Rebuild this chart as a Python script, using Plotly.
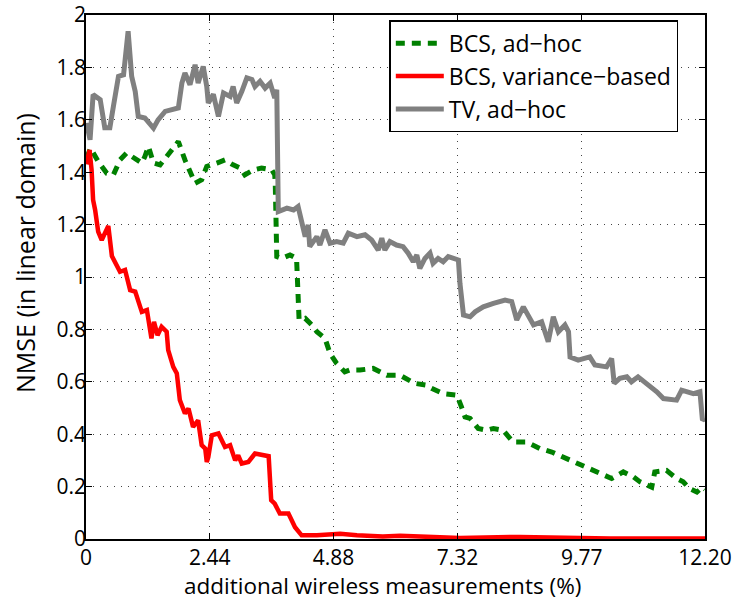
import plotly.graph_objects as go

# x: additional wireless measurements (%), y: NMSE (linear)
tv_x = [0.01, 0.08, 0.14, 0.28, 0.37, 0.47, 0.54, 0.64, 0.74, 0.83, 0.90, 0.97, 1.03, 1.16, 1.33,
        1.42, 1.56, 1.72, 1.82, 1.89, 1.95, 2.05, 2.15, 2.21, 2.31, 2.38, 2.41, 2.51, 2.61, 2.71,
        2.84, 2.90, 2.97, 3.07, 3.17, 3.27, 3.33, 3.43, 3.53, 3.63, 3.72, 3.76, 3.79, 3.96, 4.09,
        4.18, 4.25, 4.32, 4.38, 4.41, 4.55, 4.61, 4.71, 4.81, 4.94, 5.07, 5.17, 5.34, 5.50, 5.63,
        5.76, 5.83, 5.89, 5.99, 6.12, 6.25, 6.35, 6.45, 6.52, 6.58, 6.68, 6.78, 6.84, 6.94, 7.04,
        7.14, 7.34, 7.37, 7.44, 7.57, 7.67, 7.83, 8.03, 8.26, 8.39, 8.49, 8.62, 8.72, 8.82, 8.98,
        9.11, 9.21, 9.31, 9.44, 9.51, 9.54, 9.70, 9.93, 10.03, 10.26, 10.36, 10.41, 10.52, 10.66,
        10.75, 10.88, 11.05, 11.25, 11.38, 11.64, 11.74, 11.97, 12.10, 12.15, 12.20]
tv_y = [1.588, 1.524, 1.696, 1.677, 1.570, 1.570, 1.651, 1.766, 1.772, 1.938, 1.766, 1.708, 1.613,
        1.607, 1.568, 1.600, 1.632, 1.641, 1.645, 1.740, 1.779, 1.734, 1.810, 1.740, 1.804, 1.727,
        1.664, 1.697, 1.613, 1.702, 1.689, 1.727, 1.664, 1.708, 1.760, 1.754, 1.727, 1.747, 1.721,
        1.740, 1.683, 1.715, 1.250, 1.263, 1.256, 1.269, 1.205, 1.154, 1.199, 1.116, 1.154, 1.122,
        1.180, 1.129, 1.135, 1.129, 1.167, 1.154, 1.161, 1.141, 1.103, 1.148, 1.103, 1.135, 1.122,
        1.116, 1.091, 1.058, 1.084, 1.033, 1.071, 1.091, 1.052, 1.071, 1.058, 1.078, 1.065, 0.976,
        0.855, 0.848, 0.867, 0.886, 0.899, 0.912, 0.906, 0.836, 0.886, 0.848, 0.817, 0.829, 0.753,
        0.848, 0.791, 0.817, 0.791, 0.695, 0.683, 0.695, 0.664, 0.657, 0.689, 0.594, 0.613, 0.619,
        0.600, 0.619, 0.594, 0.562, 0.536, 0.530, 0.568, 0.555, 0.562, 0.453, 0.460]

bcs_adhoc_x = [0.01, 0.09, 0.24, 0.41, 0.54, 0.67, 0.80, 0.97, 1.10, 1.16, 1.23, 1.33, 1.46, 1.59,
               1.66, 1.82, 1.95, 2.05, 2.15, 2.28, 2.38, 2.58, 2.74, 2.90, 3.04, 3.13, 3.30, 3.46,
               3.66, 3.72, 3.73, 3.76, 3.86, 4.02, 4.15, 4.20, 4.32, 4.45, 4.55, 4.71, 4.81, 4.94,
               5.10, 5.20, 5.40, 5.66, 5.79, 5.93, 6.19, 6.32, 6.48, 6.71, 6.81, 7.04, 7.31, 7.40,
               7.47, 7.57, 7.73, 7.90, 8.03, 8.22, 8.42, 8.69, 8.95, 9.18, 9.41, 9.60, 9.83, 10.13,
               10.36, 10.59, 10.79, 10.92, 11.15, 11.21, 11.44, 11.64, 11.77, 11.90, 12.04, 12.15, 12.20]
bcs_adhoc_y = [1.454, 1.492, 1.441, 1.396, 1.390, 1.447, 1.473, 1.454, 1.435, 1.460, 1.498, 1.435,
               1.428, 1.460, 1.479, 1.517, 1.447, 1.403, 1.358, 1.371, 1.422, 1.435, 1.447, 1.428,
               1.416, 1.390, 1.409, 1.416, 1.409, 1.390, 1.358, 1.078, 1.071, 1.084, 1.071, 0.836,
               0.842, 0.817, 0.791, 0.766, 0.708, 0.670, 0.638, 0.645, 0.645, 0.651, 0.638, 0.625,
               0.625, 0.613, 0.594, 0.587, 0.575, 0.555, 0.549, 0.504, 0.466, 0.460, 0.422, 0.415,
               0.422, 0.415, 0.370, 0.370, 0.345, 0.332, 0.313, 0.294, 0.275, 0.250, 0.231, 0.256,
               0.237, 0.218, 0.198, 0.256, 0.262, 0.231, 0.218, 0.192, 0.179, 0.198, 0.190]

bcs_var_x = [0.01, 0.07, 0.11, 0.14, 0.18, 0.24, 0.31, 0.44, 0.51, 0.61, 0.67, 0.77, 0.87, 0.97,
             1.03, 1.10, 1.20, 1.29, 1.34, 1.41, 1.49, 1.59, 1.62, 1.72, 1.79, 1.85, 1.95, 2.02,
             2.11, 2.21, 2.28, 2.35, 2.38, 2.41, 2.48, 2.61, 2.74, 2.84, 2.94, 3.00, 3.07, 3.20,
             3.33, 3.53, 3.60, 3.65, 3.72, 3.82, 3.99, 4.12, 4.25, 4.55, 5.01, 5.34, 5.85, 6.19,
             6.78, 7.37, 8.55, 9.05, 9.74, 10.33, 12.20]
bcs_var_y = [1.430, 1.485, 1.409, 1.294, 1.256, 1.173, 1.141, 1.195, 1.080, 1.039, 1.020, 1.027,
             0.950, 0.944, 0.912, 0.867, 0.874, 0.766, 0.829, 0.778, 0.810, 0.791, 0.721, 0.657,
             0.632, 0.530, 0.479, 0.498, 0.428, 0.453, 0.358, 0.345, 0.294, 0.312, 0.396, 0.403,
             0.351, 0.358, 0.300, 0.319, 0.288, 0.294, 0.326, 0.320, 0.316, 0.148, 0.135, 0.097,
             0.097, 0.045, 0.014, 0.014, 0.020, 0.014, 0.010, 0.012, 0.006, 0.004, 0.008, 0.008,
             0.004, 0.002, 0.002]

x_ticks = [0, 2.44, 4.88, 7.32, 9.77, 12.20]
x_tick_text = ["0", "2.44", "4.88", "7.32", "9.77", "12.20"]
y_ticks = [0, 0.2, 0.4, 0.6, 0.8, 1.0, 1.2, 1.4, 1.6, 1.8, 2.0]
y_tick_text = ["0", "0.2", "0.4", "0.6", "0.8", "1", "1.2", "1.4", "1.6", "1.8", "2"]

x_title = "additional wireless measurements (%)"
y_title = "NMSE (in linear domain)"

FONT = "Open Sans"

fig = go.Figure()
fig.add_trace(go.Scatter(x=bcs_adhoc_x, y=bcs_adhoc_y, mode="lines", name="BCS, ad\u2212hoc",
                         line=dict(color="#008000", width=5, dash="9px,7px")))
fig.add_trace(go.Scatter(x=bcs_var_x, y=bcs_var_y, mode="lines", name="BCS, variance\u2212based",
                         line=dict(color="#ff0000", width=4.5)))
fig.add_trace(go.Scatter(x=tv_x, y=tv_y, mode="lines", name="TV, ad\u2212hoc",
                         line=dict(color="#808080", width=5)))

axis_common = dict(
    showline=True, linecolor="black", linewidth=1.5, mirror="ticks",
    ticks="inside", ticklen=6, tickcolor="black", tickwidth=1,
    showgrid=True, gridcolor="#444444", gridwidth=1, griddash="1px,6px",
    zeroline=False, automargin=False,
    tickfont=dict(family=FONT, size=21, color="black"),
)

fig.update_xaxes(range=[0, 12.2], tickvals=x_ticks, ticktext=x_tick_text,
                 ticklabelstandoff=-1, **axis_common)
fig.update_yaxes(range=[0, 2], tickvals=y_ticks, ticktext=y_tick_text,
                 ticklabelstandoff=-6, **axis_common)

# axis titles placed as paper-anchored text
fig.add_annotation(text=x_title, xref="paper", yref="paper", x=(382 - 86) / 619, y=-(585 - 539) / 524,
                   xanchor="center", yanchor="middle", showarrow=False, borderpad=0,
                   font=dict(family=FONT, size=22.5, color="black"))
fig.add_annotation(text=y_title, xref="paper", yref="paper", x=-(86 - 25) / 619, y=(539 - 253) / 524,
                   xanchor="center", yanchor="middle", showarrow=False, textangle=-90, borderpad=0,
                   font=dict(family=FONT, size=25, color="black"))

fig.update_layout(
    width=744, height=600,
    margin=dict(l=86, r=39, t=15, b=61),
    plot_bgcolor="white", paper_bgcolor="white",
    font=dict(family=FONT, size=20, color="black"),
    legend=dict(x=0.49, y=0.99, xanchor="left", yanchor="top",
                bgcolor="white", bordercolor="black", borderwidth=1.5,
                font=dict(family=FONT, size=23, color="black"),
                itemwidth=48, tracegroupgap=0),
    showlegend=True,
)

fig.write_html("out.html")
